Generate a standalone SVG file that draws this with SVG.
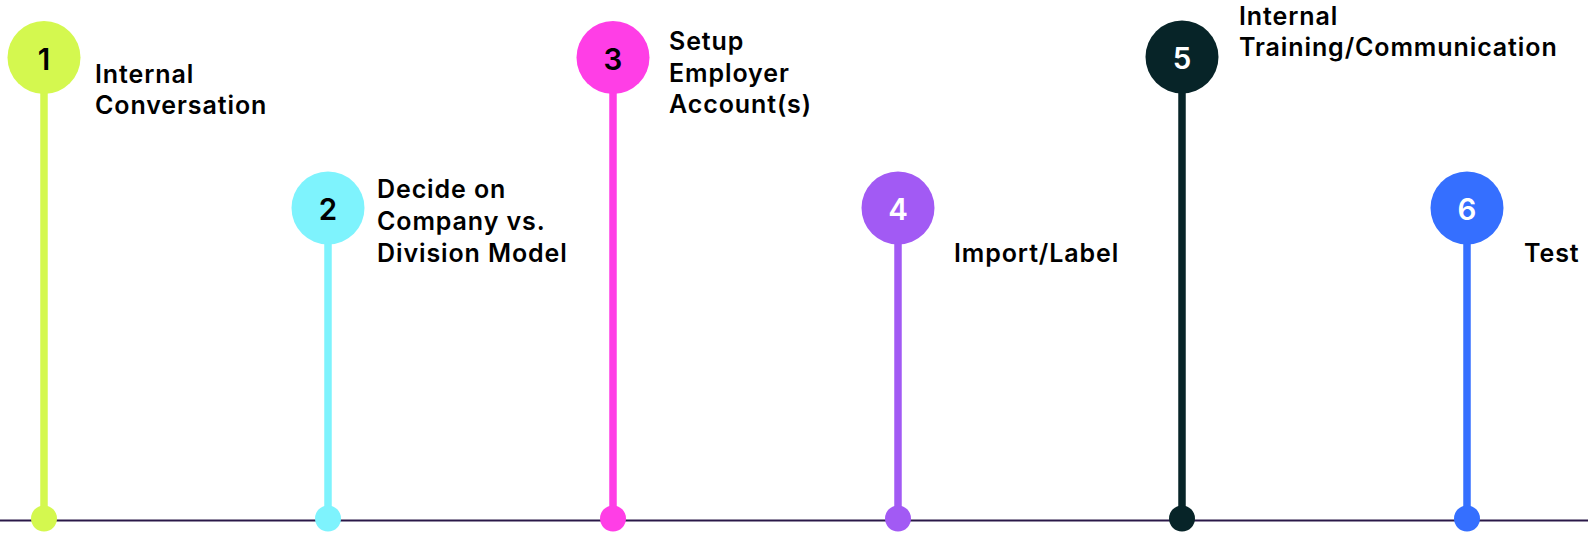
<svg xmlns="http://www.w3.org/2000/svg" width="1588" height="533" viewBox="0 0 1588 533">
<style>
.lbl{font-family:Inter,"Noto Sans","Liberation Sans",sans-serif;font-weight:600;font-size:25px;letter-spacing:0.9px;fill:#000}
.num{font-family:Inter,"Noto Sans","Liberation Sans",sans-serif;font-weight:600;font-size:29.5px;text-anchor:middle;dominant-baseline:central}
.stem{stroke-width:7.5}
</style>
<rect width="1588" height="533" fill="#fff"/>
<g id="connectors">
<line x1="0" y1="520.5" x2="1588" y2="520.5" stroke="#2a1848" stroke-width="2"/>
<line class="stem" x1="44" y1="90" x2="44" y2="518" stroke="#d4f84f"/>
<line class="stem" x1="328" y1="240" x2="328" y2="518" stroke="#7ef3fd"/>
<line class="stem" x1="613" y1="90" x2="613" y2="518" stroke="#ff3ee6"/>
<line class="stem" x1="898" y1="240" x2="898" y2="518" stroke="#a25af4"/>
<line class="stem" x1="1182" y1="90" x2="1182" y2="518" stroke="#072428"/>
<line class="stem" x1="1467" y1="240" x2="1467" y2="518" stroke="#356fff"/>
</g>
<g id="node1">
<circle cx="44" cy="57.5" r="36.5" fill="#d4f84f"/>
<text class="num" x="44" y="58.5" fill="#000">1</text>
<circle cx="44" cy="518.5" r="13" fill="#d4f84f"/>
<text class="lbl" x="95" y="83">Internal</text>
<text class="lbl" x="95" y="114">Conversation</text>
</g>
<g id="node2">
<circle cx="328" cy="208" r="36.5" fill="#7ef3fd"/>
<text class="num" x="328" y="209" fill="#000">2</text>
<circle cx="328" cy="518.5" r="13" fill="#7ef3fd"/>
<text class="lbl" x="377" y="198">Decide on</text>
<text class="lbl" x="377" y="230">Company vs.</text>
<text class="lbl" x="377" y="262">Division Model</text>
</g>
<g id="node3">
<circle cx="613" cy="57.5" r="36.5" fill="#ff3ee6"/>
<text class="num" x="613" y="58.5" fill="#000">3</text>
<circle cx="613" cy="518.5" r="13" fill="#ff3ee6"/>
<text class="lbl" x="669" y="50">Setup</text>
<text class="lbl" x="669" y="82">Employer</text>
<text class="lbl" x="669" y="113">Account(s)</text>
</g>
<g id="node4">
<circle cx="898" cy="208" r="36.5" fill="#a25af4"/>
<text class="num" x="898" y="209" fill="#fff">4</text>
<circle cx="898" cy="518.5" r="13" fill="#a25af4"/>
<text class="lbl" x="954" y="262">Import/Label</text>
</g>
<g id="node5">
<circle cx="1182" cy="57" r="36.5" fill="#072428"/>
<text class="num" x="1182" y="58" fill="#fff">5</text>
<circle cx="1182" cy="518.5" r="13" fill="#072428"/>
<text class="lbl" x="1239" y="25">Internal</text>
<text class="lbl" x="1239" y="56">Training/Communication</text>
</g>
<g id="node6">
<circle cx="1467" cy="208" r="36.5" fill="#356fff"/>
<text class="num" x="1467" y="209" fill="#fff">6</text>
<circle cx="1467" cy="518.5" r="13" fill="#356fff"/>
<text class="lbl" x="1524" y="262">Test</text>
</g>
</svg>
